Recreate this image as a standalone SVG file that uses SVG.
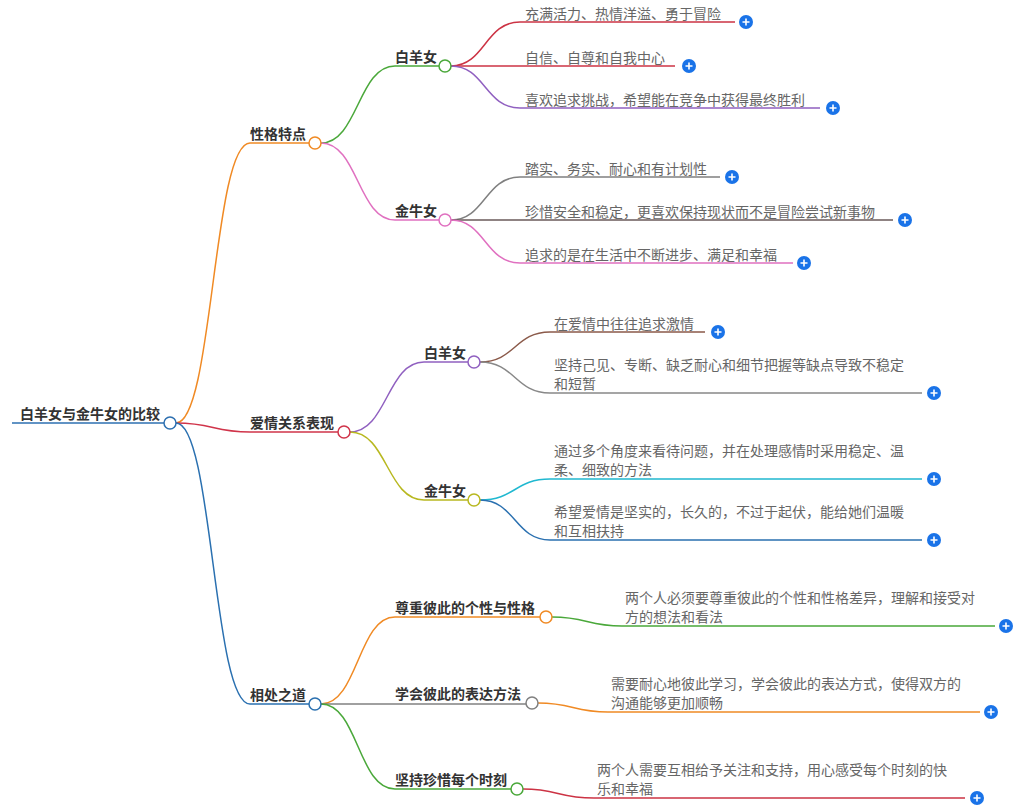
<svg xmlns="http://www.w3.org/2000/svg" width="1027" height="812" viewBox="0 0 1027 812">
<style>
.b{font-family:"Noto Sans CJK SC","Noto Sans",sans-serif;font-size:14px;font-weight:bold;fill:#333}
.t{font-family:"Noto Sans CJK SC","Noto Sans",sans-serif;font-size:14px;fill:#666}
.c path{fill:none;stroke-width:1.5}
.n{fill:#fff;stroke-width:1.5}
</style>
<defs>
<g id="plus"><circle r="7" fill="#1a73e8"/><path d="M-3.5 0H3.5M0-3.5V3.5" stroke="#fff" stroke-width="1.6"/></g>
</defs>
<g class="c">
<path d="M12 423H164" stroke="#2c6fb0" stroke-width="3"/>
<path d="M176 423C213 423 213 143 250 143H309" stroke="#f08a24"/>
<path d="M176 423C213 423 213 432 250 432H338" stroke="#d0344a"/>
<path d="M176 423C213 423 213 704 250 704H309" stroke="#2a70b0"/>
<path d="M321 143C358 143 358 66 395 66H439" stroke="#4aa83a"/>
<path d="M321 143C358 143 358 220 395 220H439" stroke="#e070c0"/>
<path d="M451 66C485 66 485 22 520 22H735" stroke="#cc3344"/>
<path d="M451 66H675" stroke="#cc3344"/>
<path d="M451 66C485 66 485 108 520 108H820" stroke="#9060c0"/>
<path d="M451 220C485 220 485 177 520 177H720" stroke="#808080"/>
<path d="M451 220H893" stroke="#6a5a5a"/>
<path d="M451 220C485 220 485 263 520 263H793" stroke="#e070c0"/>
<path d="M350 432C387 432 387 362 424 362H468" stroke="#9060c0"/>
<path d="M350 432C387 432 387 500 424 500H468" stroke="#b8b820"/>
<path d="M480 362C515 362 515 332 550 332H705" stroke="#8b5a4a"/>
<path d="M480 362C515 362 515 393 550 393H922" stroke="#888"/>
<path d="M480 500C515 500 515 479 550 479H922" stroke="#20b8d0"/>
<path d="M480 500C515 500 515 540 550 540H922" stroke="#2a70b0"/>
<path d="M321 704C358 704 358 617 395 617H540" stroke="#f08a24"/>
<path d="M321 704H526" stroke="#808080"/>
<path d="M321 704C358 704 358 789 395 789H511" stroke="#4aa83a"/>
<path d="M552 617C587 617 587 626 622 626H995" stroke="#4aa83a"/>
<path d="M538 703C573 703 573 712 608 712H980" stroke="#f08a24"/>
<path d="M523 789C558 789 558 798 594 798H965" stroke="#cc3344"/>
</g>
<g id="root"><text class="b" x="20" y="419">白羊女与金牛女的比较</text><circle class="n" cx="170" cy="423" r="6" stroke="#2c6fb0"/></g>
<g id="n1"><text class="b" x="250" y="139">性格特点</text><circle class="n" cx="315" cy="143" r="6" stroke="#f08a24"/></g>
<g id="n2"><text class="b" x="250" y="428">爱情关系表现</text><circle class="n" cx="344" cy="432" r="6" stroke="#d0344a"/></g>
<g id="n3"><text class="b" x="250" y="700">相处之道</text><circle class="n" cx="315" cy="704" r="6" stroke="#2a70b0"/></g>
<g id="n11"><text class="b" x="395" y="62">白羊女</text><circle class="n" cx="445" cy="66" r="6" stroke="#4aa83a"/></g>
<g id="n12"><text class="b" x="395" y="216">金牛女</text><circle class="n" cx="445" cy="220" r="6" stroke="#e070c0"/></g>
<g id="n21"><text class="b" x="424" y="358">白羊女</text><circle class="n" cx="474" cy="362" r="6" stroke="#9060c0"/></g>
<g id="n22"><text class="b" x="424" y="496">金牛女</text><circle class="n" cx="474" cy="500" r="6" stroke="#b8b820"/></g>
<g id="n31"><text class="b" x="395" y="613">尊重彼此的个性与性格</text><circle class="n" cx="546" cy="617" r="6" stroke="#f08a24"/></g>
<g id="n32"><text class="b" x="395" y="699">学会彼此的表达方法</text><circle class="n" cx="532" cy="703" r="6" stroke="#808080"/></g>
<g id="n33"><text class="b" x="395" y="785">坚持珍惜每个时刻</text><circle class="n" cx="517" cy="789" r="6" stroke="#4aa83a"/></g>
<g id="l1"><text class="t" x="525" y="19">充满活力、热情洋溢、勇于冒险</text><use href="#plus" x="746" y="22"/></g>
<g id="l2"><text class="t" x="525" y="63">自信、自尊和自我中心</text><use href="#plus" x="689" y="66"/></g>
<g id="l3"><text class="t" x="525" y="105">喜欢追求挑战，希望能在竞争中获得最终胜利</text><use href="#plus" x="833" y="108"/></g>
<g id="l4"><text class="t" x="525" y="174">踏实、务实、耐心和有计划性</text><use href="#plus" x="732" y="177"/></g>
<g id="l5"><text class="t" x="525" y="217">珍惜安全和稳定，更喜欢保持现状而不是冒险尝试新事物</text><use href="#plus" x="905" y="220"/></g>
<g id="l6"><text class="t" x="525" y="260">追求的是在生活中不断进步、满足和幸福</text><use href="#plus" x="804" y="263"/></g>
<g id="l7"><text class="t" x="554" y="329">在爱情中往往追求激情</text><use href="#plus" x="718" y="332"/></g>
<g id="l8"><text class="t" x="554" y="370">坚持己见、专断、缺乏耐心和细节把握等缺点导致不稳定</text><text class="t" x="554" y="389">和短暂</text><use href="#plus" x="934" y="393"/></g>
<g id="l9"><text class="t" x="554" y="456">通过多个角度来看待问题，并在处理感情时采用稳定、温</text><text class="t" x="554" y="475">柔、细致的方法</text><use href="#plus" x="934" y="479"/></g>
<g id="l10"><text class="t" x="554" y="517">希望爱情是坚实的，长久的，不过于起伏，能给她们温暖</text><text class="t" x="554" y="536">和互相扶持</text><use href="#plus" x="934" y="540"/></g>
<g id="l11"><text class="t" x="625" y="603">两个人必须要尊重彼此的个性和性格差异，理解和接受对</text><text class="t" x="625" y="622">方的想法和看法</text><use href="#plus" x="1006" y="626"/></g>
<g id="l12"><text class="t" x="611" y="689">需要耐心地彼此学习，学会彼此的表达方式，使得双方的</text><text class="t" x="611" y="708">沟通能够更加顺畅</text><use href="#plus" x="991" y="712"/></g>
<g id="l13"><text class="t" x="597" y="775">两个人需要互相给予关注和支持，用心感受每个时刻的快</text><text class="t" x="597" y="794">乐和幸福</text><use href="#plus" x="977" y="798"/></g>
</svg>
